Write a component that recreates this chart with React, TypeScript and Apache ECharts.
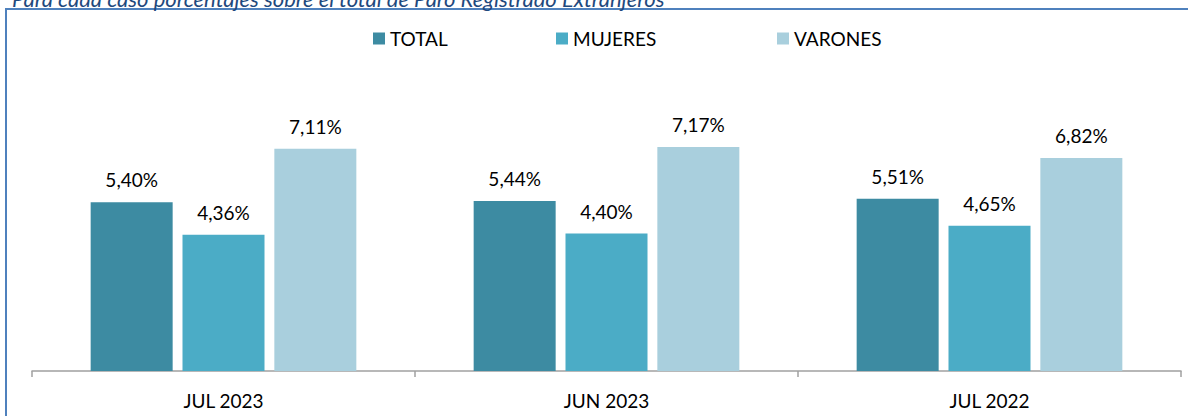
import React, { useEffect, useRef } from "react";
import * as echarts from "echarts";

const categories = ["JUL 2023", "JUN 2023", "JUL 2022"];
const totalValues = [5.4, 5.44, 5.51];
const mujeresValues = [4.36, 4.4, 4.65];
const varonesValues = [7.11, 7.17, 6.82];
const seriesNames = ["TOTAL", "MUJERES", "VARONES"];
const subtitle = "Para cada caso porcentajes sobre el total de Paro Registrado Extranjeros";

const colors = ["#3D8BA2", "#4BACC6", "#A9CFDD"];
const FONT = "Lato, 'Open Sans', sans-serif";

export default function App() {
  const ref = useRef<HTMLDivElement>(null);
  useEffect(() => {
    if (!ref.current) return;
    const chart = echarts.init(ref.current, undefined, { renderer: "svg" });
    const label = {
      show: true,
      position: "top" as const,
      distance: 13,
      color: "#000",
      fontFamily: FONT,
      fontSize: 19,
      formatter: (p: any) => p.value.toFixed(2).replace(".", ",") + "%",
    };
    const legendCommon = {
      top: 29,
      padding: 0,
      itemWidth: 12,
      itemHeight: 12,
      itemGap: 5,
      icon: "rect",
      textStyle: { fontFamily: FONT, fontSize: 19, color: "#000", padding: [2, 0, 0, 0] },
    };
    const data = [totalValues, mujeresValues, varonesValues];
    chart.setOption({
      animation: false,
      color: colors,
      graphic: [
        {
          type: "rect",
          shape: { x: 6, y: 9, width: 1200, height: 420 },
          style: { fill: "none", stroke: "#4F81BD", lineWidth: 2 },
          silent: true,
        },
        {
          type: "text",
          x: 12,
          y: 9,
          style: {
            text: subtitle,
            fontFamily: FONT,
            fontStyle: "italic",
            fontSize: 22,
            fill: "#1F497D",
            verticalAlign: "bottom",
          },
          silent: true,
        },
      ],
      legend: [
        { ...legendCommon, left: 373, data: [seriesNames[0]] },
        { ...legendCommon, left: 556, data: [seriesNames[1]] },
        { ...legendCommon, left: 777, data: [seriesNames[2]] },
      ],
      grid: { left: 32, right: 7, top: 121, bottom: 45 },
      xAxis: {
        type: "category",
        data: categories,
        axisLine: { lineStyle: { color: "#A0A0A0", width: 1.5 } },
        axisTick: { show: true, length: 6, lineStyle: { color: "#A0A0A0", width: 1.5 } },
        axisLabel: { color: "#000", fontFamily: FONT, fontSize: 19, margin: 20 },
      },
      yAxis: {
        type: "value",
        min: 0,
        max: 8,
        show: false,
        splitLine: { show: false },
      },
      series: seriesNames.map((name, i) => ({
        name,
        type: "bar",
        data: data[i],
        barWidth: 82,
        barGap: "12%",
        label,
        itemStyle: { color: colors[i] },
      })),
    });
    return () => chart.dispose();
  }, []);
  return (
    <div
      ref={ref}
      style={{ position: "fixed", left: 0, top: 0, width: 1188, height: 416, background: "#fff" }}
    />
  );
}
